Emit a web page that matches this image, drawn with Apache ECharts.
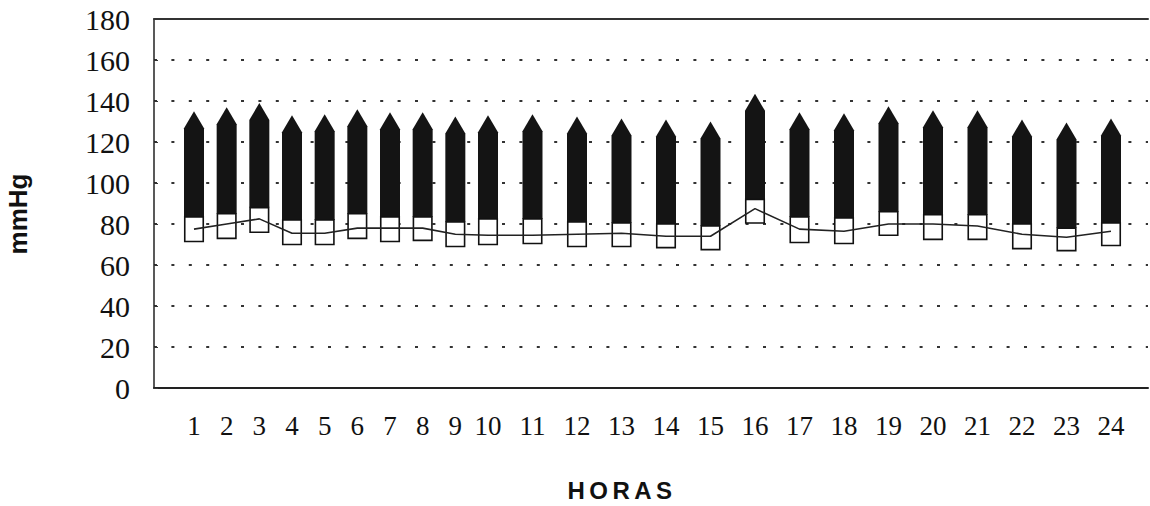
<!DOCTYPE html>
<html>
<head>
<meta charset="utf-8">
<script src="https://cdn.jsdelivr.net/npm/echarts@6/dist/echarts.min.js"></script>
<style>
  html, body { margin: 0; padding: 0; background: #fff; }
  #chart { width: 1150px; height: 506px; }
</style>
</head>
<body>
<div id="chart"></div>
<script>
// ---- data ----
const hours = [1, 2, 3, 4, 5, 6, 7, 8, 9, 10, 11, 12, 13, 14, 15, 16, 17, 18, 19, 20, 21, 22, 23, 24];
const systolicTop = [135, 137, 139, 133, 133.5, 136, 134.5, 134.5, 132.5, 133, 133.5, 132.5, 131.5, 131, 130, 143.5, 134.5, 134, 137.5, 135.5, 135.5, 131, 129.5, 131.5];
const boxTop = [83.5, 85, 88, 82, 82, 85, 83.5, 83.5, 81, 82.5, 82.5, 81, 80.5, 80, 79, 92, 83.5, 83, 86, 84.5, 84.5, 80, 78, 80.5];
const boxBottom = [71.5, 73, 76, 70, 70, 73, 71.5, 72, 69, 70, 70.5, 69, 69, 68.5, 67.5, 80.5, 71, 70.5, 74.5, 72.5, 72.5, 68, 67, 69.5];
const meanLine = [77.5, 80, 82.5, 75.5, 75.5, 78, 78, 78, 75, 74.5, 74.5, 75, 75.5, 74, 74, 87.5, 77.5, 76.5, 80, 80, 79, 75, 73.5, 76.5];
const yTicks = [0, 20, 40, 60, 80, 100, 120, 140, 160, 180];
const yAxisName = 'mmHg';
const xAxisName = 'HORAS';

// In the reference, hours 1-9 are spaced more tightly than hours 10-24,
// so the two groups use two x scales sharing one plot area.
const FIRST_GROUP = 9;
const AXIS_A = { min: -0.2245, max: 30.204 };   // hours 1..10
const AXIS_B = { min: 2.4944, max: 24.8315 };   // hours 10..24

const chart = echarts.init(document.getElementById('chart'), null, { renderer: 'svg' });

function rows(from, to) {
  const out = [];
  for (let i = from; i < to; i++) out.push([hours[i], boxBottom[i], boxTop[i], systolicTop[i]]);
  return out;
}
function linePts(from, to) {
  const out = [];
  for (let i = from; i < to; i++) out.push([hours[i], meanLine[i]]);
  return out;
}

const BAR_W = 20, TIP = 17;
function renderBar(params, api) {
  const h = api.value(0);
  const pLow = api.coord([h, api.value(1)]);
  const pHigh = api.coord([h, api.value(2)]);
  const pTop = api.coord([h, api.value(3)]);
  const cx = pLow[0], half = BAR_W / 2;
  return {
    type: 'group',
    children: [
      {
        type: 'polygon',
        shape: { points: [
          [cx - half, pHigh[1]], [cx + half, pHigh[1]],
          [cx + half, pTop[1] + TIP], [cx, pTop[1]], [cx - half, pTop[1] + TIP]
        ] },
        style: { fill: '#141414' }
      },
      {
        type: 'rect',
        shape: { x: cx - half + 0.75, y: pHigh[1], width: BAR_W - 1.5, height: pLow[1] - pHigh[1] },
        style: { fill: '#ffffff', stroke: '#111', lineWidth: 1.6 }
      }
    ]
  };
}

const labelFont = { fontFamily: 'Liberation Serif', color: '#111' };

chart.setOption({
  animation: false,
  grid: { left: 154, right: 2, top: 19, bottom: 118, containLabel: false },
  xAxis: [
    {
      type: 'value', position: 'bottom', min: AXIS_A.min, max: AXIS_A.max,
      axisLine: { show: true, onZero: false, lineStyle: { color: '#222', width: 2 } },
      axisTick: { show: false }, splitLine: { show: false },
      axisLabel: { customValues: hours.slice(0, FIRST_GROUP), fontSize: 27, margin: 24, ...labelFont }
    },
    {
      type: 'value', position: 'bottom', min: AXIS_B.min, max: AXIS_B.max,
      axisLine: { show: false, onZero: false },
      axisTick: { show: false }, splitLine: { show: false },
      axisLabel: { customValues: hours.slice(FIRST_GROUP), fontSize: 27, margin: 24, ...labelFont }
    },
    {
      type: 'value', position: 'top', min: 0, max: 1,
      axisLine: { show: true, onZero: false, lineStyle: { color: '#333', width: 2 } },
      axisTick: { show: false }, splitLine: { show: false }, axisLabel: { show: false }
    }
  ],
  yAxis: {
    type: 'value', min: yTicks[0], max: yTicks[yTicks.length - 1], interval: 20,
    axisLine: { show: true, onZero: false, lineStyle: { color: '#222', width: 1.5 } },
    axisTick: { show: true, inside: true, length: 4, lineStyle: { color: '#333' } },
    axisLabel: { fontSize: 30, margin: 24, ...labelFont },
    splitLine: { show: true, lineStyle: { type: [3, 14.4], width: 2, color: '#333' } }
  },
  graphic: [
    { type: 'text', x: 18, y: 214, rotation: Math.PI / 2, silent: true,
      style: { text: yAxisName, align: 'center', verticalAlign: 'middle',
               font: 'bold 26px "Liberation Sans"', fill: '#111' } },
    { type: 'text', x: 620, y: 490, silent: true,
      style: { text: xAxisName, align: 'center', verticalAlign: 'middle',
               font: 'bold 24px "Liberation Sans"', fill: '#111' } }
  ],
  series: [
    { type: 'custom', xAxisIndex: 0, yAxisIndex: 0, renderItem: renderBar, clip: false,
      encode: { x: 0, y: [1, 2, 3] }, data: rows(0, FIRST_GROUP), z: 2, silent: true },
    { type: 'custom', xAxisIndex: 1, yAxisIndex: 0, renderItem: renderBar, clip: false,
      encode: { x: 0, y: [1, 2, 3] }, data: rows(FIRST_GROUP, hours.length), z: 2, silent: true },
    { type: 'line', xAxisIndex: 0, yAxisIndex: 0, data: linePts(0, FIRST_GROUP + 1),
      symbol: 'none', lineStyle: { color: '#222', width: 1.6 }, z: 5, silent: true },
    { type: 'line', xAxisIndex: 1, yAxisIndex: 0, data: linePts(FIRST_GROUP, hours.length),
      symbol: 'none', lineStyle: { color: '#222', width: 1.6 }, z: 5, silent: true }
  ]
});

// spaced-out letters of the x-axis title, as in the reference
document.querySelectorAll('#chart text').forEach(t => {
  if (t.textContent === xAxisName) {
    t.style.letterSpacing = '4.5px';
    const x = parseFloat(t.getAttribute('x') || '0');
    t.setAttribute('x', x + 2);
  }
});
</script>
</body>
</html>
